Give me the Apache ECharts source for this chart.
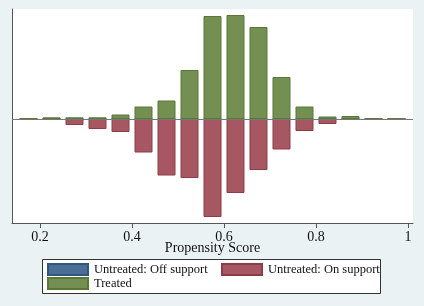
<!DOCTYPE html>
<html>
<head>
<meta charset="utf-8">
<script src="https://cdn.jsdelivr.net/npm/echarts@6/dist/echarts.min.js"></script>
<style>
  html, body { margin: 0; padding: 0; background: #eaf2f3; }
  #chart { width: 424px; height: 306px; }
</style>
</head>
<body>
<div id="chart"></div>
<script>
// bin centres (propensity score, bins of 0.05)
var bins = [0.175, 0.225, 0.275, 0.325, 0.375, 0.425, 0.475, 0.525, 0.575,
            0.625, 0.675, 0.725, 0.775, 0.825, 0.875, 0.925, 0.975];
// bar heights (same units for all groups)
var treated     = [0.8, 1.7, 1.7, 1.7, 4.5, 12.5, 18.5, 49, 103, 104, 92, 42, 12.5, 2.5, 3, 0.8, 0];
var untreatedOn = [0, 0.5, 6, 10, 13, 33.5, 56.5, 59, 98, 74, 51, 30.5, 12, 5, 0.8, 0, 0];
var untreatedOff = [0.8, 0, 0, 0, 0, 0, 0, 0, 0, 0, 0, 0, 0, 0, 0, 0.8, 1];
var xTicks = [0.2, 0.4, 0.6, 0.8, 1];

var serif = '"Liberation Serif", "DejaVu Serif", serif';

function pos(arr) { return bins.map(function (b, i) { return [b, arr[i]]; }); }
function neg(arr) { return bins.map(function (b, i) { return [b, -arr[i]]; }); }

var chart = echarts.init(document.getElementById('chart'));
chart.setOption({
    backgroundColor: '#eaf2f3',
    animation: false,
    grid: {
        left: 12, right: 11, top: 9, bottom: 83,
        show: true, backgroundColor: '#ffffff', borderWidth: 0
    },
    xAxis: {
        type: 'value',
        min: 0.1391, max: 1.0109,
        splitLine: { show: false },
        axisLine: { show: true, onZero: false, lineStyle: { color: '#555', width: 1 } },
        axisTick: { show: true, length: 5, customValues: xTicks, lineStyle: { color: '#555' } },
        axisLabel: {
            customValues: xTicks, margin: 7,
            fontFamily: serif, fontSize: 14, color: '#111',
            formatter: function (v) { return String(v); }
        },
        name: 'Propensity Score',
        nameLocation: 'middle',
        nameGap: 18,
        nameMoveOverlap: false,
        nameTextStyle: { fontFamily: serif, fontSize: 14, color: '#111', verticalAlign: 'top' }
    },
    yAxis: {
        type: 'value',
        min: -104, max: 110,
        splitLine: { show: false },
        axisLine: { show: true, onZero: false, lineStyle: { color: '#555', width: 1 } },
        axisTick: { show: false },
        axisLabel: { show: false }
    },
    legend: [
        { data: ['Untreated: Off support'], left: 47, top: 263 },
        { data: ['Untreated: On support'], left: 221, top: 263 },
        { data: ['Treated'], left: 47, top: 277 }
    ].map(function (l) {
        l.orient = 'horizontal';
        l.padding = 0;
        l.itemWidth = 40;
        l.itemHeight = 11;
        l.itemGap = 5;
        l.icon = 'rect';
        l.textStyle = { fontFamily: serif, fontSize: 12.5, color: '#111', padding: [0, 0, 0, 1] };
        return l;
    }),
    graphic: [{
        type: 'rect', z: -1,
        shape: { x: 42.5, y: 259.5, width: 338, height: 34 },
        style: { fill: '#ffffff', stroke: '#333', lineWidth: 1 }
    }],
    series: [
        {
            name: 'Untreated: Off support', type: 'bar', barWidth: 18, barGap: '-100%',
            data: neg(untreatedOff),
            itemStyle: { color: '#4a6e95', borderColor: '#31577d', borderWidth: 1 }
        },
        {
            name: 'Untreated: On support', type: 'bar', barWidth: 18, barGap: '-100%',
            data: neg(untreatedOn),
            itemStyle: { color: '#a65761', borderColor: '#8c3e48', borderWidth: 1 }
        },
        {
            name: 'Treated', type: 'bar', barWidth: 18, barGap: '-100%',
            data: pos(treated),
            itemStyle: { color: '#748f52', borderColor: '#5a773a', borderWidth: 1 },
            markLine: {
                silent: true, symbol: 'none', label: { show: false },
                lineStyle: { color: '#777', width: 1, type: 'solid' },
                data: [{ yAxis: 0 }]
            }
        }
    ]
});
</script>
</body>
</html>
